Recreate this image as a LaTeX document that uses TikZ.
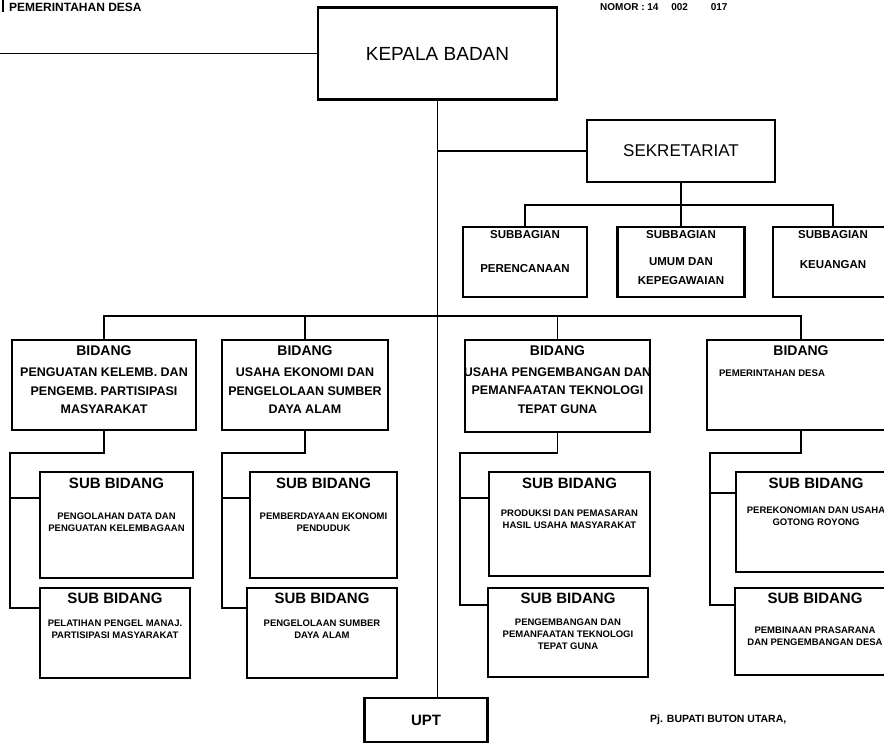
\documentclass[tikz,border=0pt]{standalone}
\usepackage{fontspec}
\setmainfont{Liberation Sans}
\usetikzlibrary{positioning}

\begin{document}
\begin{tikzpicture}[x=1pt, y=-1pt,
    box/.style={draw, line width=2.1pt, inner sep=0pt},
    conn/.style={line width=1.4pt},
    bigtxt/.style={font=\fontsize{19}{22}\selectfont},
    head/.style={inner sep=0pt, font=\bfseries\fontsize{14}{17}\selectfont},
    subhead/.style={inner sep=0pt, font=\bfseries\fontsize{15}{18}\selectfont},
    body/.style={inner sep=0pt, align=center, font=\bfseries\fontsize{12.5}{18.5}\selectfont},
    small/.style={inner sep=0pt, align=center, font=\bfseries\fontsize{9.5}{12}\selectfont},
    bagtxt/.style={inner sep=0pt, align=center, font=\bfseries\fontsize{11.5}{19}\selectfont}]
  \useasboundingbox (0,0) rectangle (884,744);
  % header
  \draw[line width=1.5pt] (3,0) -- (3,12);
  \node[inner sep=0pt, anchor=base west, font=\bfseries\fontsize{12}{14}\selectfont] (hdl) at (9,11) {PEMERINTAHAN DESA};
  \node[inner sep=0pt, anchor=base west, font=\bfseries\fontsize{10}{12}\selectfont] (hdr) at (600,10) {NOMOR : 14 \quad 002 \qquad 017};

  % head and secretariat
  \node[box, bigtxt, minimum width=239pt, minimum height=92pt] (kb) at (437.5,53.5) {KEPALA BADAN};
  \node[box, font=\fontsize{17}{20}\selectfont, minimum width=188pt, minimum height=62pt] (sek) at (681,151) {SEKRETARIAT};
  \node[box, minimum width=124pt, minimum height=70pt] (bag1) at (525,262) {};
  \node[box, minimum width=127pt, minimum height=70pt] (bag2) at (681,262) {};
  \node[box, minimum width=120pt, minimum height=70pt] (bag3) at (833,262) {};
  \node[bagtxt, below=4pt of bag1.north] (bag1h) {SUBBAGIAN};
  \node[bagtxt, below=4pt of bag2.north] (bag2h) {SUBBAGIAN};
  \node[bagtxt, below=4pt of bag3.north] (bag3h) {SUBBAGIAN};
  \node[bagtxt, below=26pt of bag1h] (bag1t) {PERENCANAAN};
  \node[bagtxt, below=19pt of bag2h] (bag2t) {UMUM DAN\\KEPEGAWAIAN};
  \node[bagtxt, below=22pt of bag3h] (bag3t) {KEUANGAN};

  % bidang
  \node[box, minimum width=184pt, minimum height=90pt] (b1) at (104,385) {};
  \node[box, minimum width=166pt, minimum height=90pt] (b2) at (305,385) {};
  \node[box, minimum width=185pt, minimum height=92pt] (b3) at (557.5,386) {};
  \node[box, minimum width=188pt, minimum height=90pt] (b4) at (801,385) {};
  \foreach \c in {1,...,4}
    \node[head, below=7pt of b\c.north] (b\c h) {BIDANG};
  \node[body, below=11.5pt of b1h] (b1t) {PENGUATAN KELEMB. DAN\\PENGEMB. PARTISIPASI\\MASYARAKAT};
  \node[body, below=11.5pt of b2h] (b2t) {USAHA EKONOMI DAN\\PENGELOLAAN SUMBER\\DAYA ALAM};
  \node[body, below=11pt of b3h] (b3t) {USAHA PENGEMBANGAN DAN\\PEMANFAATAN TEKNOLOGI\\TEPAT GUNA};
  \node[inner sep=0pt, font=\bfseries\fontsize{9.6}{12}\selectfont, below=13pt of b4h, xshift=-29pt] (b4t) {PEMERINTAHAN DESA};

  % sub bidang
  \node[box, minimum width=153pt, minimum height=106pt] (sa1) at (116.5,525) {};
  \node[box, minimum width=150pt, minimum height=90pt] (sb1) at (115,633) {};
  \node[box, minimum width=147pt, minimum height=106pt] (sa2) at (323.5,525) {};
  \node[box, minimum width=150pt, minimum height=90pt] (sb2) at (322,633) {};
  \node[box, minimum width=161pt, minimum height=104pt] (sa3) at (569.5,524) {};
  \node[box, minimum width=160pt, minimum height=89pt] (sb3) at (568,632.5) {};
  \node[box, minimum width=160pt, minimum height=100pt] (sa4) at (816,522) {};
  \node[box, minimum width=160pt, minimum height=87pt] (sb4) at (815,631.5) {};
  \foreach \c in {1,...,4} {
    \node[subhead, below=7pt of sa\c.north] (sa\c h) {SUB BIDANG};
    \node[subhead, below=6pt of sb\c.north] (sb\c h) {SUB BIDANG};
  }
  \node[small, below=24pt of sa1h] (sa1t) {PENGOLAHAN DATA DAN\\PENGUATAN KELEMBAGAAN};
  \node[small, below=16pt of sb1h] (sb1t) {PELATIHAN PENGEL MANAJ.\\PARTISIPASI MASYARAKAT};
  \node[small, below=24pt of sa2h] (sa2t) {PEMBERDAYAAN EKONOMI\\PENDUDUK};
  \node[small, below=16pt of sb2h] (sb2t) {PENGELOLAAN SUMBER\\DAYA ALAM};
  \node[small, below=21pt of sa3h] (sa3t) {PRODUKSI DAN PEMASARAN\\HASIL USAHA MASYARAKAT};
  \node[small, below=15pt of sb3h] (sb3t) {PENGEMBANGAN DAN\\PEMANFAATAN TEKNOLOGI\\TEPAT GUNA};
  \node[small, below=18pt of sa4h] (sa4t) {PEREKONOMIAN DAN USAHA\\GOTONG ROYONG};
  \node[small, below=23pt of sb4h] (sb4t) {PEMBINAAN PRASARANA\\DAN PENGEMBANGAN DESA};

  % UPT and signature
  \node[box, font=\bfseries\fontsize{15}{18}\selectfont, minimum width=123pt, minimum height=44pt] (upt) at (426,720) {UPT};
  \node[inner sep=0pt, anchor=base west, font=\bfseries\fontsize{10.5}{12}\selectfont] (pj) at (650,722) {Pj. BUPATI BUTON UTARA,};

  % connectors
  \coordinate (lend) at (-3,53.5);
  \coordinate (sbus) at (681,205);
  \coordinate (bus) at (437,316);
  \draw[conn] (kb.west) -- (lend);
  \draw[conn] (kb.south) -- (kb.south |- upt.north);
  \draw[conn] (kb.south |- sek.west) -- (sek.west);
  \draw[conn] (sek.south) -- (bag2.north);
  \draw[conn] (bag1.north) |- (sbus) -| (bag3.north);
  \draw[conn] (b1.north) |- (bus) -| (b4.north);
  \draw[conn] (b2.north) -- (b2.north |- bus);
  \draw[conn] (b3.north) -- (b3.north |- bus);
  \foreach \c/\vx/\ya/\yb in {1/10/498/608, 2/222/498/608, 3/460/498/605, 4/710/493/605} {
    \draw[conn] (b\c.south) |- (\vx,453) -- (\vx,\yb) -- (sb\c.west |- 0,\yb);
    \draw[conn] (\vx,\ya) -- (sa\c.west |- 0,\ya);
  }
\end{tikzpicture}
\end{document}
